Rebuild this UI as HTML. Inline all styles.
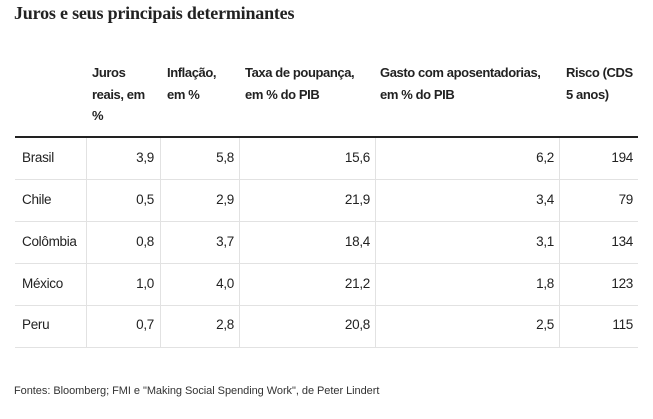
<!DOCTYPE html>
<html><head><meta charset="utf-8"><style>
body{margin:0;width:653px;height:419px;background:#fff;position:relative;overflow:hidden;font-family:"Liberation Sans",sans-serif;color:#222}
.t{position:absolute;left:14px;top:3px;font-family:"Liberation Serif",serif;font-weight:bold;font-size:18px;color:#222;letter-spacing:-0.2px}
.h{position:absolute;font-weight:bold;font-size:13px;line-height:21.5px;top:62px;color:#222;letter-spacing:-0.4px}
.hl{position:absolute;left:15px;width:623px;top:136px;height:2px;background:#222}
.rl{position:absolute;left:15px;width:623px;height:1px;background:#e2e2e2}
.vl{position:absolute;top:138px;height:209px;width:1px;background:#e2e2e2}
.c{position:absolute;font-size:13.5px;line-height:16px;color:#222;letter-spacing:-0.3px}
.n{text-align:right}
.f{position:absolute;left:14px;top:385px;font-size:11px;color:#333;white-space:nowrap;letter-spacing:-0.05px}
</style></head><body>
<div class="t">Juros e seus principais determinantes</div>
<div class="h" style="left:92px">Juros<br>reais, em<br>%</div>
<div class="h" style="left:167px">Inflação,<br>em %</div>
<div class="h" style="left:245px">Taxa de poupança,<br>em % do PIB</div>
<div class="h" style="left:380px">Gasto com aposentadorias,<br>em % do PIB</div>
<div class="h" style="left:566px">Risco (CDS<br>5 anos)</div>
<div class="hl"></div>
<div class="rl" style="top:179px"></div>
<div class="rl" style="top:221px"></div>
<div class="rl" style="top:263px"></div>
<div class="rl" style="top:305px"></div>
<div class="rl" style="top:347px"></div>
<div class="vl" style="left:86px"></div>
<div class="vl" style="left:160px"></div>
<div class="vl" style="left:239px"></div>
<div class="vl" style="left:375px"></div>
<div class="vl" style="left:559px"></div>
<div class="c" style="left:22px;top:150px">Brasil</div>
<div class="c n" style="right:499px;top:150px">3,9</div><div class="c n" style="right:419px;top:150px">5,8</div><div class="c n" style="right:283px;top:150px">15,6</div><div class="c n" style="right:99px;top:150px">6,2</div><div class="c n" style="right:20px;top:150px">194</div>
<div class="c" style="left:22px;top:192px">Chile</div>
<div class="c n" style="right:499px;top:192px">0,5</div><div class="c n" style="right:419px;top:192px">2,9</div><div class="c n" style="right:283px;top:192px">21,9</div><div class="c n" style="right:99px;top:192px">3,4</div><div class="c n" style="right:20px;top:192px">79</div>
<div class="c" style="left:22px;top:234px">Colômbia</div>
<div class="c n" style="right:499px;top:234px">0,8</div><div class="c n" style="right:419px;top:234px">3,7</div><div class="c n" style="right:283px;top:234px">18,4</div><div class="c n" style="right:99px;top:234px">3,1</div><div class="c n" style="right:20px;top:234px">134</div>
<div class="c" style="left:22px;top:276px">México</div>
<div class="c n" style="right:499px;top:276px">1,0</div><div class="c n" style="right:419px;top:276px">4,0</div><div class="c n" style="right:283px;top:276px">21,2</div><div class="c n" style="right:99px;top:276px">1,8</div><div class="c n" style="right:20px;top:276px">123</div>
<div class="c" style="left:22px;top:317px">Peru</div>
<div class="c n" style="right:499px;top:317px">0,7</div><div class="c n" style="right:419px;top:317px">2,8</div><div class="c n" style="right:283px;top:317px">20,8</div><div class="c n" style="right:99px;top:317px">2,5</div><div class="c n" style="right:20px;top:317px">115</div>
<div class="f">Fontes: Bloomberg; FMI e "Making Social Spending Work", de Peter Lindert</div>
</body></html>
